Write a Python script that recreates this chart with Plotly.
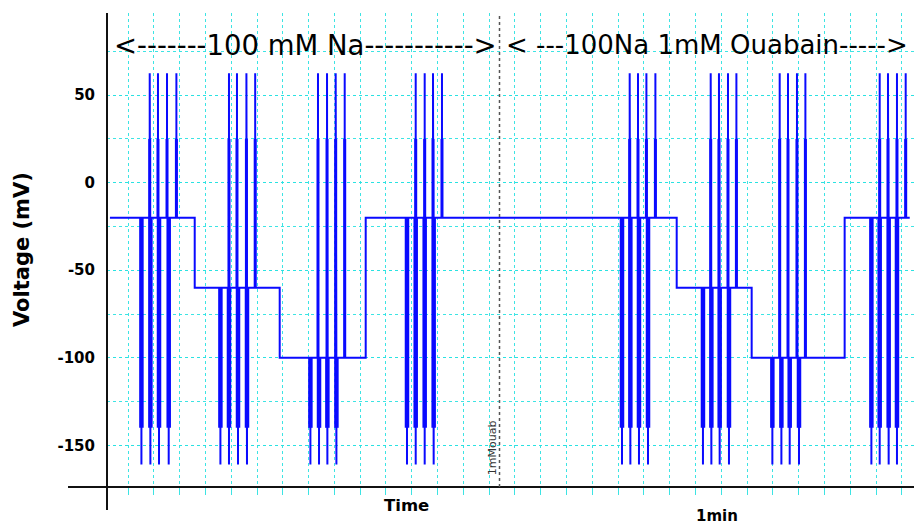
import plotly.graph_objects as go

# ---------------- data (time in s, voltage in mV) ----------------
level_step_times = [1.5, 17.93, 34.40, 51.07, 111.34, 125.87, 143.89]
level_values = [-20, -60, -100, -20, -60, -100, -20]
trace_end_time = 156.5

spike_down_times = [7.60, 9.34, 11.01, 12.89,
                    22.91, 24.57, 26.32, 28.06,
                    40.35, 42.02, 43.64, 45.39,
                    59.07, 60.76, 62.50, 64.24,
                    100.74, 102.36, 104.03, 105.78,
                    116.43, 118.06, 119.67, 121.47,
                    129.88, 131.63, 133.24, 135.04,
                    149.07, 150.68, 152.42, 154.03]
spike_up_times = [9.21, 10.81, 12.56, 14.38,
                  24.57, 26.12, 27.95, 29.65,
                  41.82, 43.57, 45.25, 47.00,
                  60.76, 62.50, 64.11, 65.85,
                  102.23, 103.84, 105.47, 107.21,
                  117.93, 119.53, 121.28, 122.91,
                  131.30, 132.91, 134.65, 136.28,
                  150.68, 152.29, 154.03, 155.72]
spike_peak_mv = 62.5
spike_trough_mv = -161
dense_peak_mv = 25
dense_trough_mv = -140

ouabain_time = 77.0
y_ticks = [50, 0, -50, -100, -150]
label_left = "<-------100 mM Na----------->"
label_right = "< ---100Na 1mM Ouabain----->"

# ---------------- build waveform ----------------
def level_at(t):
    lv = level_values[0]
    for ts, v in zip(level_step_times, level_values):
        if ts <= t:
            lv = v
    return lv

events = [(t, 0, i) for i, t in enumerate(level_step_times[1:], start=1)]
events += [(t, 1, 0) for t in spike_down_times]
events += [(t, 2, 0) for t in spike_up_times]
events.sort()

xs, ys = [level_step_times[0]], [level_values[0]]
ddx, ddy, udx, udy = [], [], [], []
for t, kind, i in events:
    if kind == 0:
        xs += [t, t]
        ys += [level_values[i - 1], level_values[i]]
    else:
        L = level_at(t)
        amp = spike_trough_mv if kind == 1 else spike_peak_mv
        xs += [t, t, t]
        ys += [L, amp, L]
        if kind == 1:
            ddx += [t, t, None]
            ddy += [L, dense_trough_mv, None]
        else:
            udx += [t, t, None]
            udy += [L, dense_peak_mv, None]
xs.append(trace_end_time)
ys.append(level_values[-1])

BLUE = "#0a0aff"
CYAN = "rgba(40,225,225,0.9)"
FONT = "DejaVu Sans"

fig = go.Figure()
fig.add_trace(go.Scatter(x=ddx, y=ddy, mode="lines",
                         line=dict(color=BLUE, width=4.5), hoverinfo="skip"))
fig.add_trace(go.Scatter(x=udx, y=udy, mode="lines",
                         line=dict(color=BLUE, width=3), hoverinfo="skip"))
fig.add_trace(go.Scatter(x=xs, y=ys, mode="lines",
                         line=dict(color=BLUE, width=2)))

fig.update_layout(
    width=914, height=526,
    margin=dict(l=107, r=0, t=13, b=39, pad=0),
    paper_bgcolor="white", plot_bgcolor="white",
    showlegend=False,
    xaxis=dict(range=[0.93, 157.33], tick0=0, dtick=5, showgrid=True,
               gridcolor=CYAN, griddash="dot", gridwidth=1,
               showticklabels=False, zeroline=False, showline=False,
               ticks="outside", ticklen=7, tickcolor=CYAN, tickwidth=1,
               automargin=False),
    yaxis=dict(range=[-173.8, 96.9], tickvals=y_ticks,
               ticktext=[str(v) for v in y_ticks],
               showgrid=True, gridcolor=CYAN, griddash="dot", gridwidth=1,
               minor=dict(dtick=25, tick0=0, showgrid=True, gridcolor=CYAN,
                          griddash="dot", gridwidth=1),
               zeroline=False, showline=False, ticks="",
               ticklabelstandoff=11,
               tickfont=dict(family=FONT, size=15, color="black", weight="bold"),
               automargin=False),
)

# axis lines (extend past the corner like the original)
fig.add_shape(type="line", xref="paper", yref="paper", x0=-0.0483, x1=1, y0=0, y1=0,
              line=dict(color="#111", width=2), layer="above")
fig.add_shape(type="line", xref="paper", yref="paper", x0=0, x1=0, y0=-0.0485, y1=1,
              line=dict(color="#111", width=2), layer="above")
# ouabain marker
fig.add_shape(type="line", xref="x", yref="paper", x0=ouabain_time, x1=ouabain_time,
              y0=0, y1=1, line=dict(color="#555", width=1.5, dash="dot"), layer="above")
fig.add_annotation(x=ouabain_time, xref="x", y=0.083, yref="paper", text="1mMouab",
                   textangle=-90, showarrow=False, xshift=-7, xanchor="center",
                   yanchor="middle", font=dict(family=FONT, size=11, color="#333"))

# section labels
fig.add_annotation(x=0.2457, xref="paper", y=78.6, yref="y", text=label_left,
                   showarrow=False, xanchor="center", yanchor="middle",
                   font=dict(family=FONT, size=27.5, color="black"))
fig.add_annotation(x=0.7441, xref="paper", y=78.6, yref="y", text=label_right,
                   showarrow=False, xanchor="center", yanchor="middle",
                   font=dict(family=FONT, size=26, color="black"))

# axis titles
fig.add_annotation(x=-0.1053, xref="paper", y=0.5, yref="paper", text="Voltage (mV)",
                   textangle=-90, showarrow=False, xanchor="center", yanchor="middle",
                   font=dict(family=FONT, size=21, color="black", weight="bold"))
fig.add_annotation(x=0.3717, xref="paper", y=-0.038, yref="paper", text="Time",
                   showarrow=False, xanchor="center", yanchor="middle",
                   font=dict(family=FONT, size=16.5, color="black", weight="bold"))
fig.add_annotation(x=0.7559, xref="paper", y=-0.0612, yref="paper", text="1min",
                   showarrow=False, xanchor="center", yanchor="middle",
                   font=dict(family=FONT, size=15, color="black", weight="bold"))

fig.write_html("out.html", config={"displayModeBar": False},
               post_script="document.body.style.margin='0px';document.body.style.overflow='hidden';")
